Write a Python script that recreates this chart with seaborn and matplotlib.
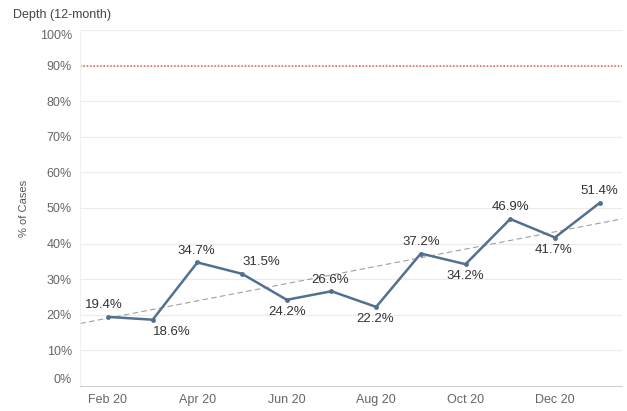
import numpy as np
import pandas as pd
import matplotlib
matplotlib.use("Agg")
import matplotlib.pyplot as plt
import seaborn as sns

months = ["Feb 20", "Mar 20", "Apr 20", "May 20", "Jun 20", "Jul 20",
          "Aug 20", "Sep 20", "Oct 20", "Nov 20", "Dec 20", "Jan 21"]
depth_pct = [19.4, 18.6, 34.7, 31.5, 24.2, 26.6, 22.2, 37.2, 34.2, 46.9, 41.7, 51.4]
label_above = [True, False, True, True, False, True, False, True, False, True, False, True]
target_pct = 90
y_ticks = [0, 10, 20, 30, 40, 50, 60, 70, 80, 90, 100]

# horizontal nudges (points) for labels that would collide with the line
label_dx = [-3, 14, -1, 14, 0, -1, -1, 0, 0, 0, -1, 0]

df = pd.DataFrame({"idx": np.arange(len(months)), "month": months, "depth": depth_pct})

sns.set_theme(style="white")
plt.rcParams["font.family"] = ["Liberation Sans", "DejaVu Sans"]

fig = plt.figure(figsize=(6.27, 4.11), dpi=100)
ax = fig.add_axes([0.128, 0.061, 0.864, 0.866])

ax.set_xlim(-0.62, 11.5)
ax.set_ylim(0, 100)

# horizontal gridlines
for t in y_ticks:
    ax.axhline(t, color="#ececec", lw=0.8, zorder=0)

# target line
ax.axhline(target_pct, color="#e05a5a", lw=1.1, ls=(0, (1, 1.2)), zorder=1)

# linear trend across the full width
sns.regplot(data=df, x="idx", y="depth", scatter=False, ci=None, truncate=False, ax=ax,
            line_kws=dict(color="#a0a0a0", lw=0.8, ls=(0, (5, 3))))

# monthly series
sns.lineplot(data=df, x="idx", y="depth", ax=ax, color="#52708f", lw=1.8,
             marker="o", markersize=3.5, markeredgewidth=0, zorder=3)

for i, (v, up, dx) in enumerate(zip(depth_pct, label_above, label_dx)):
    ax.annotate(f"{v:.1f}%", (i, v), xytext=(dx, 4 if up else -4.5), textcoords="offset points",
                ha="center", va="bottom" if up else "top", fontsize=9.5, color="#333333")

ax.set_xticks(df["idx"][::2])
ax.set_xticklabels(months[::2], fontsize=9, color="#666666")
ax.set_yticks(y_ticks)
ax.set_yticklabels([f"{t}%" for t in y_ticks], fontsize=9, color="#666666")
tl = ax.get_yticklabels()
tl[0].set_verticalalignment("bottom")
tl[-1].set_verticalalignment("top")
ax.tick_params(axis="both", length=0, pad=6)

ax.set_xlabel("")
ax.set_ylabel("% of Cases", fontsize=8, color="#555555", labelpad=8)

for s in ["top", "right"]:
    ax.spines[s].set_visible(False)
ax.spines["left"].set_color("#f0f0f0")
ax.spines["bottom"].set_color("#d0d0d0")
ax.spines["left"].set_linewidth(0.8)
ax.spines["bottom"].set_linewidth(0.8)

fig.text(0.021, 0.963, "Depth (12-month)", fontsize=9, color="#444444", va="center", ha="left")

fig.savefig("out.png", dpi=100, facecolor="white")
